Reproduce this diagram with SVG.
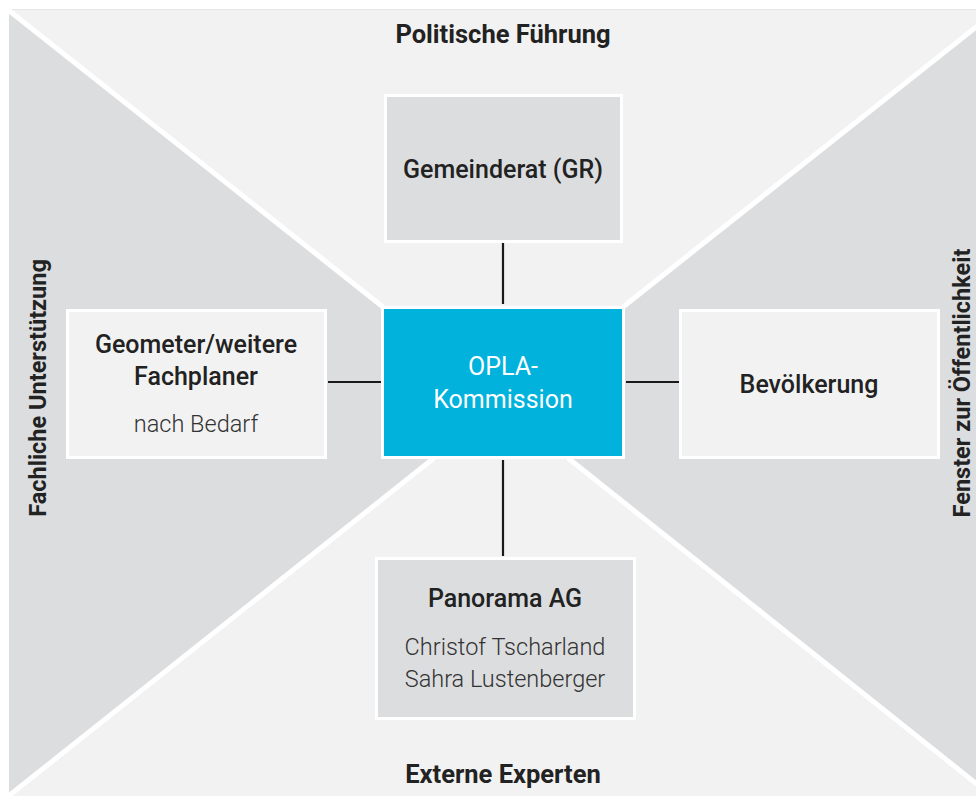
<svg xmlns="http://www.w3.org/2000/svg" width="976" height="796" viewBox="0 0 976 796">
<style>
.bg{fill:#f2f2f2}
.dk{fill:#dcdddf}
.sep{stroke:#ffffff;stroke-width:5;fill:none}
.conn{stroke:#1a1a1a;stroke-width:2.2;fill:none}
.boxd{fill:#dcdddf;stroke:#ffffff;stroke-width:3}
.boxl{fill:#f2f2f2;stroke:#ffffff;stroke-width:3}
.boxc{fill:#00b2dc;stroke:#ffffff;stroke-width:3}
.t{font-family:Roboto,"Liberation Sans",sans-serif;fill:#222222;text-anchor:middle}
.h{font-weight:bold;font-size:25.5px}
.v{font-weight:bold;font-size:23.5px}
.m{font-weight:500;font-size:25px}
.r{font-weight:400;font-size:25px}
.l{font-weight:300;font-size:23.5px;fill:#333333}
.w{fill:#ffffff}
</style>
<rect x="0" y="0" width="976" height="796" fill="#ffffff"/>
<rect class="bg" x="9" y="9" width="967" height="787"/>
<line x1="9" y1="9.5" x2="976" y2="9.5" stroke="#e6e6e6" stroke-width="1"/>
<polygon class="dk" points="9,10 381,306 381,459 432,459 9,795"/>
<polygon class="dk" points="976,27 625,306 625,459 570,459 976,783"/>
<g id="separators">
<line class="sep" x1="7" y1="9" x2="383" y2="307"/>
<line class="sep" x1="978" y1="25.5" x2="623" y2="307"/>
<line class="sep" x1="434" y1="458" x2="6" y2="798"/>
<line class="sep" x1="568" y1="458" x2="978" y2="785"/>
</g>
<g id="connectors">
<line class="conn" x1="503" y1="243" x2="503" y2="304"/>
<line class="conn" x1="503" y1="460" x2="503" y2="556"/>
<line class="conn" x1="328" y1="382" x2="381" y2="382"/>
<line class="conn" x1="626" y1="382" x2="679" y2="382"/>
</g>
<g id="label-top"><text class="t h" x="503" y="43">Politische Führung</text></g>
<g id="label-bottom"><text class="t h" x="503" y="783">Externe Experten</text></g>
<g id="label-left"><text class="t v" transform="translate(46,388) rotate(-90)">Fachliche Unterstützung</text></g>
<g id="label-right"><text class="t v" transform="translate(970,383) rotate(-90)">Fenster zur Öffentlichkeit</text></g>
<g id="node-gr">
<rect class="boxd" x="385.5" y="95.5" width="236" height="146"/>
<text class="t m" x="503" y="178">Gemeinderat (GR)</text>
</g>
<g id="node-opla">
<rect class="boxc" x="382.5" y="307.5" width="241" height="150"/>
<text class="t r w" x="503" y="375">OPLA-</text>
<text class="t r w" x="503" y="408">Kommission</text>
</g>
<g id="node-geo">
<rect class="boxl" x="67.5" y="310.5" width="258" height="147"/>
<text class="t m" x="196" y="353">Geometer/weitere</text>
<text class="t m" x="196" y="385">Fachplaner</text>
<text class="t l" x="196" y="432">nach Bedarf</text>
</g>
<g id="node-bev">
<rect class="boxl" x="680.5" y="310.5" width="258" height="147"/>
<text class="t m" x="809" y="393">Bevölkerung</text>
</g>
<g id="node-panorama">
<rect class="boxd" x="376.5" y="558.5" width="258" height="160"/>
<text class="t m" x="505" y="607">Panorama AG</text>
<text class="t l" x="505" y="655">Christof Tscharland</text>
<text class="t l" x="505" y="687">Sahra Lustenberger</text>
</g>
</svg>
